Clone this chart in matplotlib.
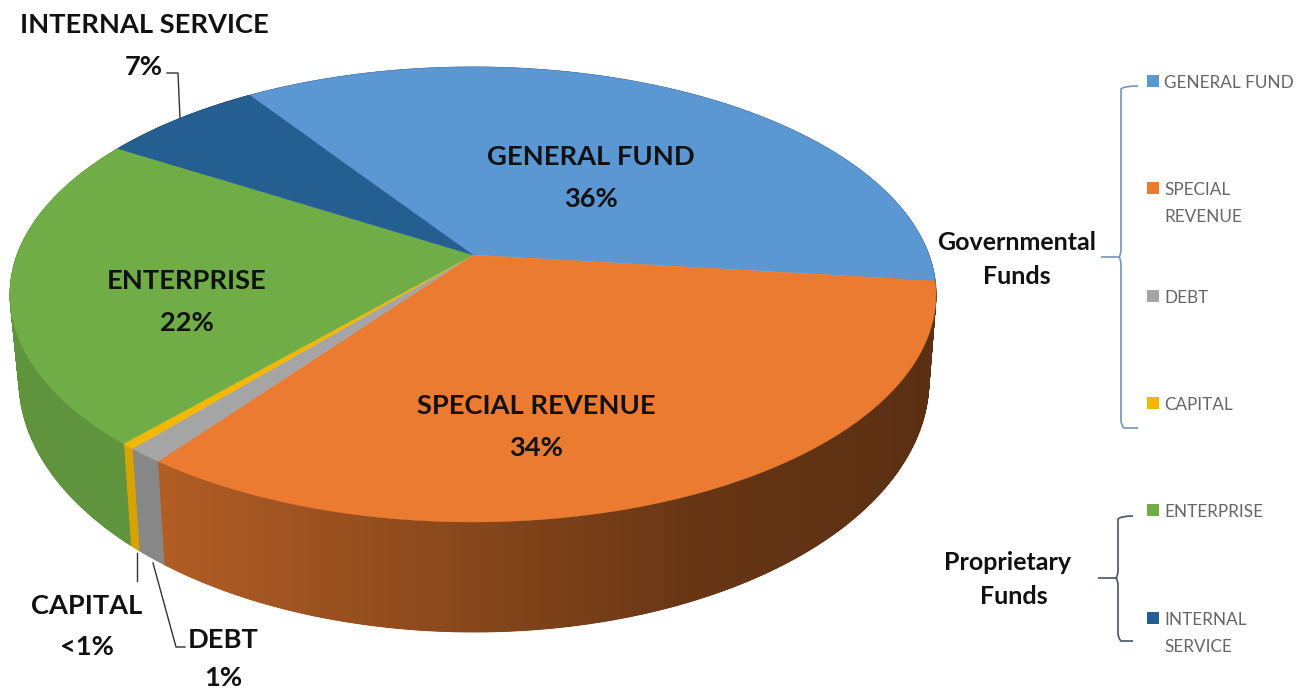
import numpy as np
import matplotlib
matplotlib.use("Agg")
import matplotlib.pyplot as plt
from matplotlib.collections import PolyCollection
from matplotlib.patches import PathPatch, Polygon
from matplotlib.path import Path

plt.rcParams['font.family'] = ['Lato', 'DejaVu Sans']

# slices, clockwise from the top left
funds = ["GENERAL FUND", "SPECIAL REVENUE", "DEBT", "CAPITAL", "ENTERPRISE", "INTERNAL SERVICE"]
shares = [36.3, 33.3, 1.1, 0.4, 22.2, 6.7]
pct_labels = ["36%", "34%", "1%", "<1%", "22%", "7%"]
colors = ["#5B97D3", "#EA7B30", "#A5A5A5", "#F5B800", "#70AD47", "#255E91"]
legend_labels = ["GENERAL FUND", "SPECIAL\nREVENUE", "DEBT", "CAPITAL", "ENTERPRISE", "INTERNAL\nSERVICE"]

start_angle = 124.1

# the tilted disc: top face, bottom face and where the centre lands
top_c, top_r = (473, 294.5), (463, 227.5)
bot_c, bot_r = (474, 380), (455, 252)
apex_y = 255
tilt = (top_c[1] - apex_y) / top_r[1]


def ring(phi, c, r):
    # perspective from the flat circle onto the drawn ellipse
    s = np.sin(phi)
    x = np.cos(phi) * np.sqrt(1 - tilt ** 2) / (1 + tilt * s)
    y = (s + tilt) / (1 + tilt * s)
    return c[0] + r[0] * x, c[1] - r[1] * y


def side_shade(i, x):
    if i == 1:
        return np.interp(x, [160, 400, 700, 930], [0.76, 0.62, 0.44, 0.39])
    return np.full_like(x, {0: 0.6, 2: 0.82, 3: 0.88, 4: 0.85, 5: 0.6}[i])


fig = plt.figure(figsize=(13.04, 6.89), dpi=100)
ax = fig.add_axes([0, 0, 1, 1])

spans = np.array(shares) / sum(shares) * 2 * np.pi
edges = np.radians(start_angle) - np.concatenate([[0], np.cumsum(spans)])

# side wall first, the top face goes over it
for i in range(len(funds)):
    n = max(int(spans[i] * 150), 4)
    phi = np.linspace(edges[i], edges[i + 1], n + 1)
    tx, ty = ring(phi, top_c, top_r)
    bx, by = ring(phi, bot_c, bot_r)
    base = np.array(matplotlib.colors.to_rgb(colors[i]))

    # strips reach the outer edge where top and bottom rims cross
    strips = []
    for k in range(n):
        strips.append([(tx[k], ty[k]), (tx[k + 1], ty[k + 1]), (bx[k + 1], by[k + 1]), (bx[k], by[k])])
    mid_x = (tx[:-1] + bx[:-1]) / 2
    strip_colors = base[None, :] * side_shade(i, mid_x)[:, None]
    ax.add_collection(PolyCollection(strips, facecolors=strip_colors, edgecolors=strip_colors, linewidths=0.6, zorder=2))

    # smooth gradient over the strips, they show seams on the orange part
    if i == 1:
        outline = np.column_stack([np.r_[tx, bx[::-1]], np.r_[ty, by[::-1]]])
        x0, x1 = outline[:, 0].min(), outline[:, 0].max()
        y0, y1 = outline[:, 1].min(), outline[:, 1].max()
        xs = np.linspace(x0, x1, 256)
        grad = (base[None, :] * side_shade(i, xs)[:, None])[None, :, :]
        im = ax.imshow(grad, extent=(x0, x1, y1, y0), aspect="auto", interpolation="bilinear", zorder=2.5)
        im.set_clip_path(Polygon(outline, transform=ax.transData))

for i in range(len(funds)):
    phi = np.linspace(edges[i], edges[i + 1], max(int(spans[i] * 100), 4))
    tx, ty = ring(phi, top_c, top_r)
    ax.fill(np.r_[top_c[0], tx], np.r_[apex_y, ty], color=colors[i], lw=0.3, zorder=3)

ax.set_xlim(0, 1304)
ax.set_ylim(689, 0)
ax.axis("off")

# leader lines
ax.plot([167, 178, 180], [73, 73, 118], color="#333333", lw=1, zorder=4)
ax.plot([137, 137], [553, 581], color="#333333", lw=1, zorder=4)
ax.plot([153, 176, 185], [563, 647, 647], color="#333333", lw=1, zorder=4)

# data labels
label_xy = [(591, 157), (536, 406), (223, 640), (87, 606), (187, 281), (144, 25)]
pct_xy = [(591, 199), (536, 448), (223, 678), (87, 647), (187, 323), (144, 67)]
for i in range(len(funds)):
    ax.text(*label_xy[i], funds[i], ha="center", va="center", fontsize=19.6, fontweight="bold", color="#111111", zorder=5)
    ax.text(*pct_xy[i], pct_labels[i], ha="center", va="center", fontsize=19.6, fontweight="bold", color="#111111", zorder=5)

# legend on the right
legend_y = [81, 188, 296, 403, 510, 618]
for i in range(len(funds)):
    ax.scatter([1153], [legend_y[i]], marker="s", s=68, color=colors[i], linewidths=0, zorder=5)
    ax.text(1164, legend_y[i] - 6, legend_labels[i], ha="left", va="top", fontsize=12.3, color="#666666", linespacing=1.85)


def brace(x, tip, top, mid, bottom, end, color):
    verts = [(end, top), (x + 3, top), (x, top + 3), (x, mid - 8), (x, mid - 2), (x - 2, mid), (tip, mid),
             (x - 2, mid), (x, mid + 2), (x, mid + 8), (x, bottom - 8), (x, bottom - 3), (x + 3, bottom), (end, bottom)]
    codes = [Path.MOVETO, Path.CURVE3, Path.CURVE3, Path.LINETO, Path.CURVE3, Path.CURVE3, Path.LINETO,
             Path.MOVETO, Path.CURVE3, Path.CURVE3, Path.LINETO, Path.CURVE3, Path.CURVE3, Path.LINETO]
    ax.add_patch(PathPatch(Path(verts, codes), fill=False, edgecolor=color, lw=1.2))


brace(1121, 1101, 86, 257, 428, 1138, "#7794BA")
brace(1118, 1098, 516, 578, 641, 1133, "#44546A")

ax.text(1017, 242, "Governmental", ha="center", va="center", fontsize=18, fontweight="bold", color="#111111")
ax.text(1017, 277, "Funds", ha="center", va="center", fontsize=18, fontweight="bold", color="#111111")
ax.text(1008, 562, "Proprietary", ha="center", va="center", fontsize=18, fontweight="bold", color="#111111")
ax.text(1014, 597, "Funds", ha="center", va="center", fontsize=18, fontweight="bold", color="#111111")

fig.savefig("out.png", dpi=100)
